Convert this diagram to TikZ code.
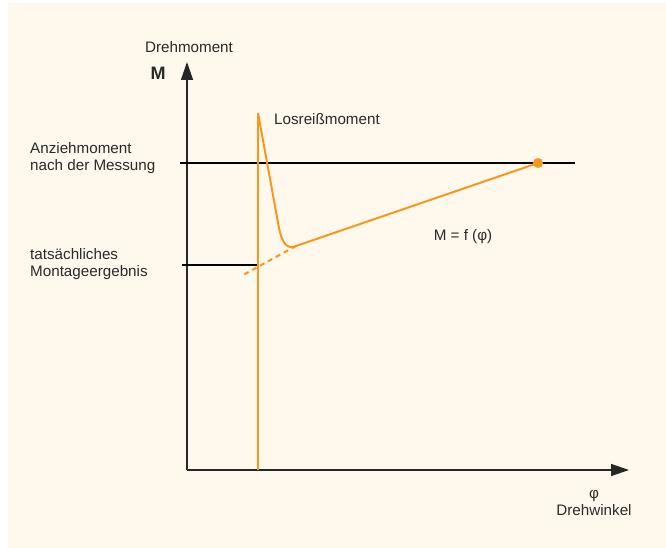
\documentclass[tikz,border=0pt]{standalone}
\usepackage{fontspec}
\setmainfont{Liberation Sans}
\usetikzlibrary{arrows.meta}
\definecolor{creme}{HTML}{FFF8EC}
\definecolor{orangelinie}{HTML}{F7981D}
\definecolor{textgrau}{HTML}{2A2A2A}

\begin{document}
\begin{tikzpicture}[x=1pt,y=-1pt,
    beschriftung/.style={text=textgrau, font=\fontsize{15.2}{17.5}\selectfont, inner sep=0pt},
    achse/.style={line width=1.4pt, draw=black!85, -{Triangle[length=18pt,width=12pt]}},
    hilfslinie/.style={line width=1.2pt, draw=black},
    kurve/.style={line width=2pt, draw=orangelinie, line join=round}]

    \useasboundingbox (0,0) rectangle (666,548);
    % Hintergrund
    \fill[creme] (8,3) rectangle (666,548);

    % Achsen
    \coordinate (ursprung) at (187,470);
    \coordinate (yspitze) at (187,62);
    \coordinate (xspitze) at (629,470);
    \draw[achse] (ursprung) -- (yspitze);
    \draw[achse] (ursprung) -- (xspitze);

    % Achsenbeschriftung
    \node[beschriftung] (drehmoment) at (189,47) {Drehmoment};
    \node[beschriftung, font=\bfseries\fontsize{18}{20}\selectfont] (mzeichen) at (158,73) {M};
    \node[beschriftung, align=center] (drehwinkel) at (594,503) {φ\\Drehwinkel};

    % Hilfslinien
    \coordinate (anzieh) at (180,163);
    \coordinate (anziehende) at (575,163);
    \coordinate (montage) at (182,265);
    \coordinate (montageende) at (258,265);
    \draw[hilfslinie] (anzieh) -- (anziehende);
    \draw[hilfslinie] (montage) -- (montageende);
    \node[beschriftung, anchor=west, align=left] (anziehtext) at (30,158) {Anziehmoment\\nach der Messung};
    \node[beschriftung, anchor=west, align=left] (montagetext) at (30,264) {tatsächliches\\Montageergebnis};

    % Kurve M = f(phi)
    \coordinate (fuss) at (258,470);
    \coordinate (spitze) at (258,113);
    \coordinate (knick) at (296,246);
    \coordinate (endpunkt) at (538,163);
    \draw[kurve] (fuss) -- (spitze);
    \draw[kurve] (spitze) -- (279,228) .. controls (283,246) and (288,249) .. (knick) -- (endpunkt);
    \draw[kurve, dash pattern=on 5pt off 4pt] (knick) -- (243,275);
    \fill[orangelinie] (endpunkt) circle (5pt);

    \node[beschriftung, anchor=west] (losreiss) at (274,119) {Losreißmoment};
    \node[beschriftung] (formel) at (463,237) {M = f (φ)};
\end{tikzpicture}
\end{document}
